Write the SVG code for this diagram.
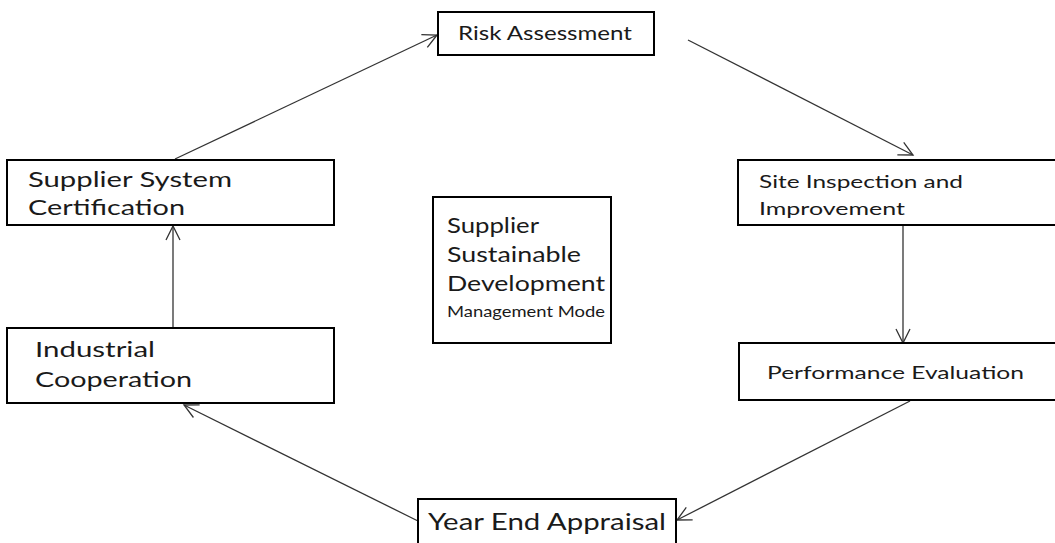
<svg xmlns="http://www.w3.org/2000/svg" width="1055" height="543" viewBox="0 0 1055 543">
  <style>
    .box { fill: #ffffff; stroke: #000000; stroke-width: 2; }
    .t { font-family: Lato, "Open Sans", "Liberation Sans", sans-serif; fill: #1a1a1a; }
    .conn { stroke: #333333; stroke-width: 1.3; fill: none; marker-end: url(#arr); }
  </style>
  <defs>
    <marker id="arr" markerUnits="userSpaceOnUse" markerWidth="20" markerHeight="20" viewBox="0 0 20 20" refX="18" refY="10" orient="auto">
      <path d="M4,3 L18,10 L4,17" fill="none" stroke="#333333" stroke-width="1.3"/>
    </marker>
  </defs>
  <rect width="1055" height="543" fill="#ffffff"/>

  <g id="connectors">
    <line class="conn" x1="175" y1="159" x2="437" y2="35"/>
    <line class="conn" x1="688" y1="40" x2="913" y2="155"/>
    <line class="conn" x1="903" y1="226" x2="903" y2="343"/>
    <line class="conn" x1="910" y1="401" x2="677" y2="520"/>
    <line class="conn" x1="418" y1="521" x2="184" y2="405"/>
    <line class="conn" x1="173" y1="328" x2="173" y2="226"/>
  </g>

  <g id="risk-assessment">
    <rect class="box" x="438" y="12" width="216" height="43"/>
    <text class="t" x="458" y="40" font-size="19.5" textLength="174" lengthAdjust="spacingAndGlyphs">Risk Assessment</text>
  </g>

  <g id="supplier-system-certification">
    <rect class="box" x="7" y="160" width="327" height="65"/>
    <text class="t" x="28" y="187" font-size="21" textLength="204" lengthAdjust="spacingAndGlyphs">Supplier System</text>
    <text class="t" x="28" y="215" font-size="21" textLength="157" lengthAdjust="spacingAndGlyphs">Certification</text>
  </g>

  <g id="site-inspection">
    <rect class="box" x="738" y="160" width="330" height="65"/>
    <text class="t" x="759" y="188" font-size="18" textLength="204" lengthAdjust="spacingAndGlyphs">Site Inspection and</text>
    <text class="t" x="759" y="215" font-size="18" textLength="146" lengthAdjust="spacingAndGlyphs">Improvement</text>
  </g>

  <g id="performance-evaluation">
    <rect class="box" x="739" y="343" width="330" height="57"/>
    <text class="t" x="767" y="379" font-size="18" textLength="257" lengthAdjust="spacingAndGlyphs">Performance Evaluation</text>
  </g>

  <g id="year-end-appraisal">
    <rect class="box" x="418" y="499" width="258" height="60"/>
    <text class="t" x="428" y="530" font-size="23.5" textLength="238" lengthAdjust="spacingAndGlyphs">Year End Appraisal</text>
  </g>

  <g id="industrial-cooperation">
    <rect class="box" x="7" y="328" width="327" height="75"/>
    <text class="t" x="35" y="357" font-size="21" textLength="120" lengthAdjust="spacingAndGlyphs">Industrial</text>
    <text class="t" x="35" y="387" font-size="21" textLength="157" lengthAdjust="spacingAndGlyphs">Cooperation</text>
  </g>

  <g id="center-mode">
    <rect class="box" x="433" y="197" width="178" height="146"/>
    <text class="t" x="447" y="233" font-size="21" textLength="92" lengthAdjust="spacingAndGlyphs">Supplier</text>
    <text class="t" x="447" y="262" font-size="21" textLength="134" lengthAdjust="spacingAndGlyphs">Sustainable</text>
    <text class="t" x="447" y="291" font-size="21" textLength="158" lengthAdjust="spacingAndGlyphs">Development</text>
    <text class="t" x="447" y="317" font-size="16" textLength="158" lengthAdjust="spacingAndGlyphs">Management Mode</text>
  </g>
</svg>
